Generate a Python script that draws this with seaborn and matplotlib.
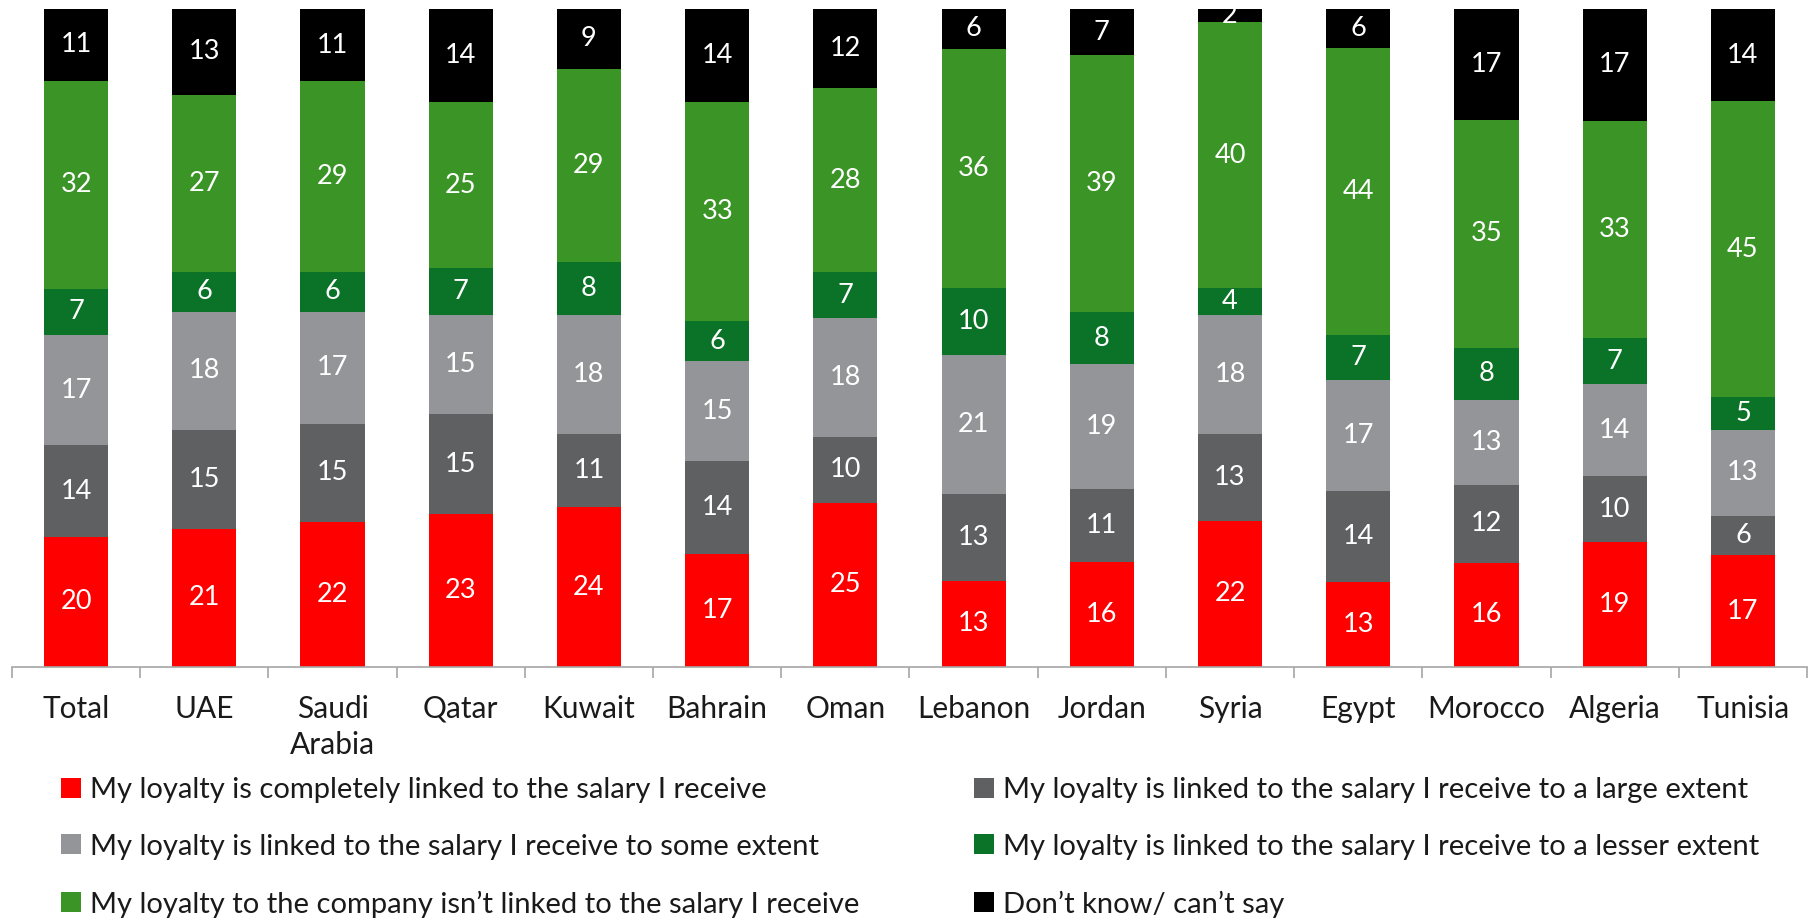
import numpy as np
import pandas as pd
import matplotlib
matplotlib.use("Agg")
import matplotlib.pyplot as plt
from matplotlib.patches import Patch
import seaborn as sns

# Categories and values (percent, as printed on the bars)
countries = ["Total", "UAE", "Saudi\nArabia", "Qatar", "Kuwait", "Bahrain", "Oman",
             "Lebanon", "Jordan", "Syria", "Egypt", "Morocco", "Algeria", "Tunisia"]
completely = [20, 21, 22, 23, 24, 17, 25, 13, 16, 22, 13, 16, 19, 17]
large_extent = [14, 15, 15, 15, 11, 14, 10, 13, 11, 13, 14, 12, 10, 6]
some_extent = [17, 18, 17, 15, 18, 15, 18, 21, 19, 18, 17, 13, 14, 13]
lesser_extent = [7, 6, 6, 7, 8, 6, 7, 10, 8, 4, 7, 8, 7, 5]
not_linked = [32, 27, 29, 25, 29, 33, 28, 36, 39, 40, 44, 35, 33, 45]
dont_know = [11, 13, 11, 14, 9, 14, 12, 6, 7, 2, 6, 17, 17, 14]

series_names = [
    "My loyalty is completely linked to the salary I receive",
    "My loyalty is linked to the salary I receive to a large extent",
    "My loyalty is linked to the salary I receive to some extent",
    "My loyalty is linked to the salary I receive to a lesser extent",
    "My loyalty to the company isn\u2019t linked to the salary I receive",
    "Don\u2019t know/ can\u2019t say",
]
colors = ["#FF0000", "#5F6062", "#939598", "#0A7328", "#3A9426", "#000000"]

W, H = 1818, 919

sns.set_theme(style="white")
plt.rcParams["font.family"] = ["Lato", "DejaVu Sans"]

df = pd.DataFrame(dict(zip(series_names,
                           [completely, large_extent, some_extent,
                            lesser_extent, not_linked, dont_know])),
                  index=countries)
share = df.div(df.sum(axis=1), axis=0) * 100
cum = share.cumsum(axis=1)

fig = plt.figure(figsize=(W / 100, H / 100), dpi=100)
ax = fig.add_axes([12 / W, 1 - 667 / H, (1807 - 12) / W, (667 - 9) / H])

# stacked bars: draw cumulative totals from the top layer down
for name, color in reversed(list(zip(series_names, colors))):
    sns.barplot(x=countries, y=cum[name].values, color=color, width=0.5,
                saturation=1, edgecolor="none", linewidth=0, ax=ax)

for i, country in enumerate(countries):
    for name in series_names:
        mid = cum.loc[country, name] - share.loc[country, name] / 2
        ax.text(i, mid, str(df.loc[country, name]), ha="center", va="center",
                color="white", fontsize=19.5)

ax.set_ylim(0, 100)
ax.set_xlim(-0.5, len(countries) - 0.5)
ax.set_yticks([])
ax.set_ylabel("")
for side in ["top", "left", "right"]:
    ax.spines[side].set_visible(False)
ax.spines["bottom"].set_color("#A6A6A6")
ax.spines["bottom"].set_linewidth(1.2)

ax.set_xticks(range(len(countries)))
ax.set_xticklabels(countries, fontsize=21.5, color="#1A1A1A", linespacing=1.35)
ax.set_xticks(np.arange(-0.5, len(countries)), minor=True)
ax.tick_params(axis="x", which="major", length=0, pad=20)
ax.tick_params(axis="x", which="minor", length=8, width=1.2, color="#A6A6A6",
               direction="out", bottom=True)

handles = [Patch(facecolor=c, edgecolor="none") for c in colors]
leg_kw = dict(frameon=False, fontsize=21, handlelength=0.68, handleheight=0.68,
              handletextpad=0.3, labelspacing=1.05, borderpad=0, borderaxespad=0,
              loc="upper left", labelcolor="#1A1A1A")
fig.legend([handles[0], handles[2], handles[4]],
           [series_names[0], series_names[2], series_names[4]],
           bbox_to_anchor=(61 / W, 1 - 777 / H), **leg_kw)
fig.legend([handles[1], handles[3], handles[5]],
           [series_names[1], series_names[3], series_names[5]],
           bbox_to_anchor=(974 / W, 1 - 777 / H), **leg_kw)

fig.savefig("out.png", dpi=100)
